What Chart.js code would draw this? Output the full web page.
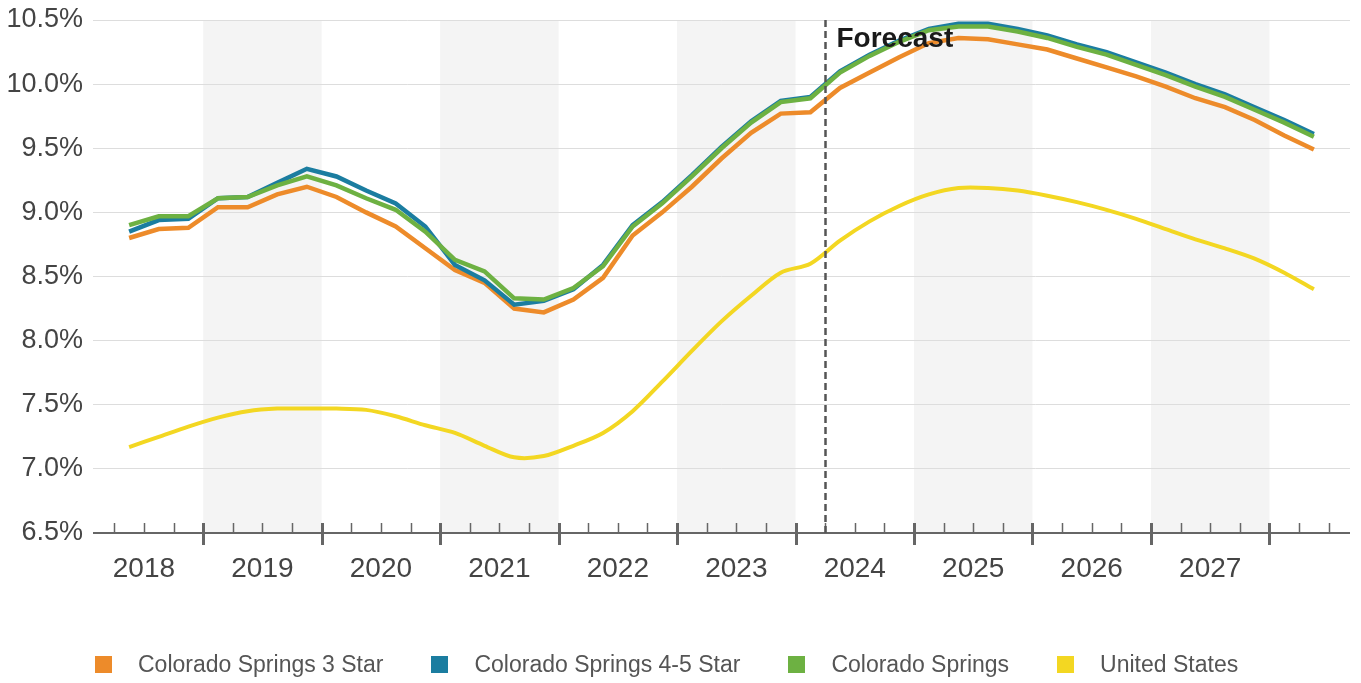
<!DOCTYPE html>
<html lang="en">
<head>
  <meta charset="UTF-8" />
  <title>Colorado Springs Cap Rate Forecast</title>
  <script src="https://cdn.jsdelivr.net/npm/chart.js"></script>
  <style>
    html, body { margin: 0; padding: 0; background: #fff; }
    body {
      width: 1361px;
      height: 683px;
      position: relative;
      overflow: hidden;
      font-family: 'Liberation Sans', Arial, sans-serif;
    }
    #capChart { position: absolute; left: 0; top: 0; }
    .legend {
      position: absolute;
      top: 651px;
      left: 95px;
      display: flex;
      align-items: center;
      font-size: 23px;
      color: #555;
    }
    .legend .item { display: flex; align-items: center; margin-right: 48px; }
    .legend .swatch { width: 17px; height: 17px; margin-right: 26px; }
  </style>
</head>
<body>

  <canvas id="capChart" width="1361" height="683"></canvas>
  <div class="legend" id="legend"></div>

  <script>
    // quarters plotted (2018 Q2 .. 2028 Q2)
    const quarters = [
      '2018 Q2', '2018 Q3', '2018 Q4',
      '2019 Q1', '2019 Q2', '2019 Q3', '2019 Q4',
      '2020 Q1', '2020 Q2', '2020 Q3', '2020 Q4',
      '2021 Q1', '2021 Q2', '2021 Q3', '2021 Q4',
      '2022 Q1', '2022 Q2', '2022 Q3', '2022 Q4',
      '2023 Q1', '2023 Q2', '2023 Q3', '2023 Q4',
      '2024 Q1', '2024 Q2', '2024 Q3', '2024 Q4',
      '2025 Q1', '2025 Q2', '2025 Q3', '2025 Q4',
      '2026 Q1', '2026 Q2', '2026 Q3', '2026 Q4',
      '2027 Q1', '2027 Q2', '2027 Q3', '2027 Q4',
      '2028 Q1', '2028 Q2'
    ];

    const yearLabels = [2018, 2019, 2020, 2021, 2022, 2023, 2024, 2025, 2026, 2027];
    const shadedYears = [2019, 2021, 2023, 2025, 2027];
    const forecastStart = '2024 Q2';

    const seriesNames = ['Colorado Springs 3 Star', 'Colorado Springs 4-5 Star', 'Colorado Springs', 'United States'];
    const seriesColors = ['#ED8B2A', '#1B7DA0', '#6DB142', '#F3D722'];

    const threeStar = [
      8.80, 8.87, 8.88,
      9.04, 9.04, 9.14, 9.20,
      9.12, 9.00, 8.89, 8.72,
      8.55, 8.45, 8.25, 8.22,
      8.32, 8.49, 8.82, 9.00,
      9.20, 9.42, 9.62, 9.77,
      9.78, 9.97, 10.09, 10.21,
      10.32, 10.36, 10.35, 10.31,
      10.27, 10.20, 10.13, 10.06,
      9.98, 9.89, 9.82, 9.72,
      9.60, 9.49
    ];
    const fourFiveStar = [
      8.85, 8.94, 8.95,
      9.11, 9.12, 9.23, 9.34,
      9.28, 9.17, 9.07, 8.89,
      8.59, 8.47, 8.28, 8.31,
      8.40, 8.59, 8.90, 9.08,
      9.29, 9.51, 9.71, 9.87,
      9.90, 10.10, 10.23, 10.34,
      10.43, 10.47, 10.47, 10.43,
      10.38, 10.31, 10.25, 10.17,
      10.09, 10.00, 9.92, 9.82,
      9.72, 9.61
    ];
    const coloradoSprings = [
      8.90, 8.97, 8.97,
      9.11, 9.12, 9.21, 9.28,
      9.21, 9.11, 9.02, 8.85,
      8.63, 8.54, 8.33, 8.32,
      8.41, 8.58, 8.89, 9.07,
      9.28, 9.50, 9.70, 9.86,
      9.89, 10.09, 10.22, 10.33,
      10.42, 10.45, 10.45, 10.41,
      10.36, 10.29, 10.23, 10.15,
      10.07, 9.98, 9.90, 9.80,
      9.70, 9.59
    ];
    const unitedStates = [
      7.17, 7.25, 7.33,
      7.40, 7.45, 7.47, 7.47,
      7.47, 7.46, 7.41, 7.34,
      7.28, 7.18, 7.09, 7.10,
      7.18, 7.28, 7.45, 7.68,
      7.92, 8.15, 8.35, 8.53,
      8.60, 8.78, 8.93, 9.05,
      9.14, 9.19, 9.19, 9.17,
      9.13, 9.08, 9.02, 8.95,
      8.87, 8.79, 8.72, 8.64,
      8.53, 8.40
    ];

    const yTicks = [6.5, 7.0, 7.5, 8.0, 8.5, 9.0, 9.5, 10.0, 10.5];

    // "2019 Q3" -> 2019.625 (middle of the quarter)
    function quarterMid(label) {
      const [yr, q] = label.split(' Q');
      return Number(yr) + (Number(q) - 0.5) / 4;
    }
    function quarterStart(label) {
      const [yr, q] = label.split(' Q');
      return Number(yr) + (Number(q) - 1) / 4;
    }

    function toPoints(values) {
      return values.map((v, i) => ({ x: quarterMid(quarters[i]), y: v }));
    }

    const decor = {
      id: 'decor',
      beforeDraw(chart) {
        const { ctx, chartArea: a, scales: { x } } = chart;
        ctx.save();
        ctx.fillStyle = '#f4f4f4';
        shadedYears.forEach(yr => {
          const l = Math.max(x.getPixelForValue(yr), a.left);
          const r = Math.min(x.getPixelForValue(yr + 1), a.right);
          ctx.fillRect(l, a.top, r - l, a.bottom - a.top);
        });
        ctx.restore();
      },
      afterDatasetsDraw(chart) {
        const { ctx, chartArea: a, scales: { x } } = chart;
        ctx.save();

        // axis line + quarter ticks
        ctx.strokeStyle = '#666';
        ctx.lineWidth = 2;
        ctx.beginPath();
        ctx.moveTo(a.left, a.bottom);
        ctx.lineTo(a.right, a.bottom);
        ctx.stroke();

        for (let yr = 2018; yr <= 2028; yr++) {
          for (let q = 0; q < 4; q++) {
            const v = yr + q / 4;
            if (v < x.min || v > x.max) continue;
            const px = Math.round(x.getPixelForValue(v)) + 0.5;
            ctx.beginPath();
            if (q === 0) {
              ctx.lineWidth = 3;
              ctx.moveTo(px, a.bottom - 10);
              ctx.lineTo(px, a.bottom + 12);
            } else {
              ctx.lineWidth = 1.5;
              ctx.moveTo(px, a.bottom - 10);
              ctx.lineTo(px, a.bottom);
            }
            ctx.stroke();
          }
        }

        // forecast divider
        const fx = Math.round(x.getPixelForValue(quarterStart(forecastStart))) + 0.5;
        ctx.strokeStyle = '#555';
        ctx.lineWidth = 2.5;
        ctx.setLineDash([7, 4]);
        ctx.beginPath();
        ctx.moveTo(fx, a.top);
        ctx.lineTo(fx, a.bottom);
        ctx.stroke();
        ctx.setLineDash([]);

        ctx.fillStyle = '#1a1a1a';
        ctx.font = 'bold 28px "Liberation Sans", Arial, sans-serif';
        ctx.textBaseline = 'top';
        ctx.fillText('Forecast', fx + 11, a.top + 5);
        ctx.restore();
      }
    };

    const seriesData = [threeStar, fourFiveStar, coloradoSprings, unitedStates];
    const drawOrder = [2, 1, 0, 3];

    new Chart(document.getElementById('capChart'), {
      type: 'line',
      data: {
        datasets: seriesNames.map((name, i) => ({
          label: name,
          data: toPoints(seriesData[i]),
          borderColor: seriesColors[i],
          backgroundColor: seriesColors[i],
          borderWidth: i === 3 ? 4 : 4.5,
          pointRadius: 0,
          tension: i === 3 ? 0.3 : 0,
          order: drawOrder[i]
        }))
      },
      options: {
        responsive: false,
        devicePixelRatio: 1,
        animation: false,
        layout: { padding: { top: 20, right: 11, bottom: 0, left: 0 } },
        plugins: {
          legend: { display: false },
          tooltip: { enabled: false }
        },
        scales: {
          x: {
            type: 'linear',
            min: 2018.07,
            max: 2028.68,
            grid: { display: false },
            border: { display: false },
            afterBuildTicks: axis => { axis.ticks = yearLabels.map(y => ({ value: y + 0.5 })); },
            afterFit: axis => { axis.height = 150; axis.paddingLeft = 0; axis.paddingRight = 0; },
            ticks: {
              autoSkip: false,
              maxRotation: 0,
              padding: 11,
              color: '#444',
              font: { family: '"Liberation Sans", Arial, sans-serif', size: 28 },
              callback: v => String(Math.floor(v))
            }
          },
          y: {
            min: 6.5,
            max: 10.5,
            afterBuildTicks: axis => { axis.ticks = yTicks.map(v => ({ value: v })); },
            afterFit: axis => { axis.width = 93; axis.paddingTop = 0; axis.paddingBottom = 0; },
            grid: { color: '#dddddd', lineWidth: 1, drawTicks: false },
            border: { display: false },
            ticks: {
              padding: 10,
              color: '#444',
              font: { family: '"Liberation Sans", Arial, sans-serif', size: 27 },
              callback: v => v.toFixed(1) + '%'
            }
          }
        }
      },
      plugins: [decor]
    });

    // legend
    const legend = document.getElementById('legend');
    seriesNames.forEach((name, i) => {
      const item = document.createElement('div');
      item.className = 'item';
      item.innerHTML = `<span class="swatch" style="background:${seriesColors[i]}"></span><span>${name}</span>`;
      legend.appendChild(item);
    });
  </script>

</body>
</html>
